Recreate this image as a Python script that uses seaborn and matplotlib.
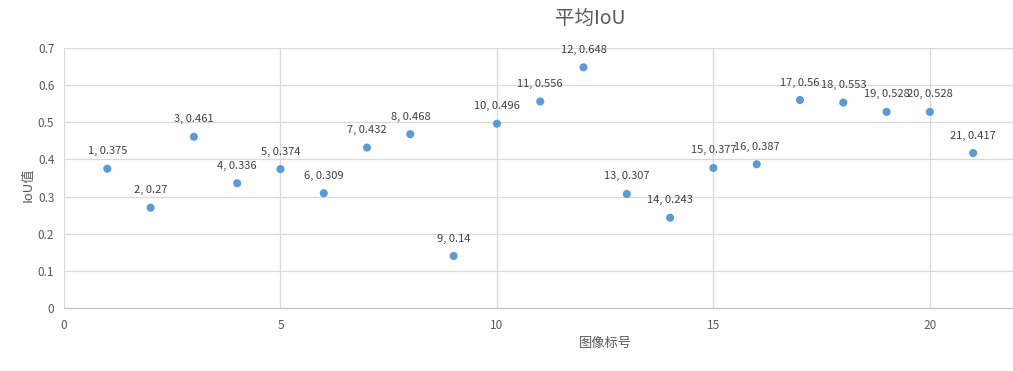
import seaborn as sns
import numpy as np
import pandas as pd
import matplotlib.pyplot as plt

image_ids = list(range(1, 22))
mean_iou = [0.375, 0.27, 0.461, 0.336, 0.374, 0.309, 0.432, 0.468, 0.14, 0.496,
            0.556, 0.648, 0.307, 0.243, 0.377, 0.387, 0.56, 0.553, 0.528, 0.528, 0.417]

sns.set_style('white')
plt.rcParams['font.family'] = ['Noto Sans CJK SC', 'DejaVu Sans']

df = pd.DataFrame({'id': image_ids, 'iou': mean_iou})

fig = plt.figure(figsize=(10.13, 3.71), dpi=100)
ax = fig.add_axes([64 / 1013, 1 - 308 / 371, 1 - 64 / 1013, 260 / 371])

sns.scatterplot(data=df, x='id', y='iou', ax=ax, color='#5B9BD5', s=34,
                edgecolor='none', clip_on=False, zorder=3)

for x, v in zip(image_ids, mean_iou):
    ax.annotate(f'{x}, {v}', (x, v), xytext=(0, 9), textcoords='offset points',
                ha='center', va='bottom', fontsize=8, color='#404040')

ax.set_xlim(0, 21.92)
ax.set_ylim(0, 0.7)
ax.set_xticks([0, 5, 10, 15, 20])
ax.set_yticks(np.arange(0, 0.71, 0.1))
ax.set_yticklabels(['0', '0.1', '0.2', '0.3', '0.4', '0.5', '0.6', '0.7'])
ax.grid(True, color='#D9D9D9', linewidth=0.9)
ax.set_axisbelow(True)
for side in ['top', 'right', 'left']:
    ax.spines[side].set_visible(False)
ax.spines['bottom'].set_color('#BFBFBF')
ax.tick_params(axis='y', length=4, color='#D9D9D9', labelsize=8.5, labelcolor='#595959', pad=3)
ax.tick_params(axis='x', length=0, labelsize=8.5, labelcolor='#595959', pad=8)

ax.set_xlabel('')
ax.set_ylabel('')
fig.text(590 / 1013, 1 - 18 / 371, '平均IoU', ha='center', va='center', fontsize=14, color='#595959')
fig.text(605 / 1013, 1 - 343 / 371, '图像标号', ha='center', va='center', fontsize=9.5, color='#595959')
fig.text(28 / 1013, 1 - 185 / 371, 'IoU值', ha='center', va='center', rotation=90, fontsize=9.5, color='#595959')

fig.savefig('out.png', dpi=100)
